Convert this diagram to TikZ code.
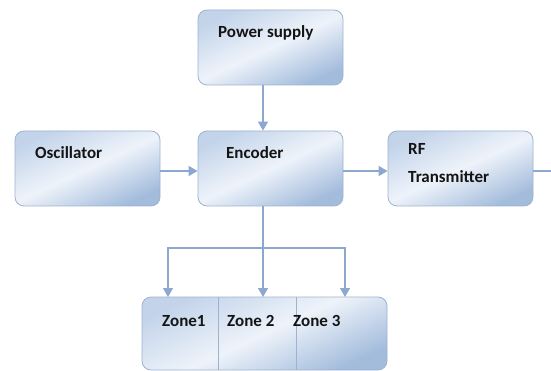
\documentclass[tikz,border=0pt]{standalone}
\usepackage{fontspec}
\setmainfont{Carlito}
\usetikzlibrary{arrows.meta,calc}
\definecolor{boxtop}{HTML}{C3D4EA}
\definecolor{boxmid}{HTML}{EEF3FA}
\definecolor{boxbot}{HTML}{A3BCDC}
\definecolor{boxline}{HTML}{9DB3CF}
\definecolor{wire}{HTML}{8CA8CE}
\definecolor{ink}{HTML}{141414}
\tikzset{
  box/.style={draw=boxline,line width=.8pt,rounded corners=9pt,top color=boxtop,bottom color=boxbot,middle color=boxmid,shading angle=25,minimum width=145pt,minimum height=75pt,inner sep=0},
  lbl/.style={anchor=base west,inner sep=0,text=ink,font=\fontsize{17}{28}\selectfont\bfseries,align=left},
  conn/.style={draw=wire,line width=1.4pt},
  tip/.style={-{Triangle[width=10pt,length=9pt]}}
}
\begin{document}
\begin{tikzpicture}[x=1pt,y=-1pt]
    \useasboundingbox(0,0)rectangle(551,371);
    % blocks
    \node[box](pwr)at(270.5,47.5){};
    \node[box](osc)at(87.5,168.5){};
    \node[box](enc)at(270.5,168.5){};
    \node[box](rf)at(460.5,168.5){};
    \node[box,minimum width=245pt,minimum height=73pt](zone)at(264.5,333.5){};
    \draw[boxline,line width=.8pt](218,297)--(218,370);
    \draw[boxline,line width=.8pt](296,297)--(296,370);
    % labels
    \node[lbl](pwrtxt)at(218,38){Power supply};
    \node[lbl](osctxt)at(35,159){Oscillator};
    \node[lbl](enctxt)at(226,159){Encoder};
    \node[lbl,anchor=north west](rftxt)at(408,143){RF\\Transmitter};
    \node[lbl](zone1)at(162,326){Zone1};
    \node[lbl](zone2)at(227,326){Zone 2};
    \node[lbl](zone3)at(293,326){Zone 3};
    % connectors
    \coordinate(split)at(263,248);
    \coordinate(out)at(551,171);
    \coordinate(z1)at(168,297);
    \coordinate(z2)at(263,297);
    \coordinate(z3)at(345,297);
    \draw[conn,tip](pwr.south-|split)--(enc.north-|split);
    \draw[conn,tip](osc.east|-out)--(enc.west|-out);
    \draw[conn,tip](enc.east|-out)--(rf.west|-out);
    \draw[conn](rf.east|-out)--(out);
    \draw[conn](enc.south-|split)--(split);
    \draw[conn,tip](split)-|(z1);
    \draw[conn,tip](split)--(z2);
    \draw[conn,tip](split)-|(z3);
\end{tikzpicture}
\end{document}
